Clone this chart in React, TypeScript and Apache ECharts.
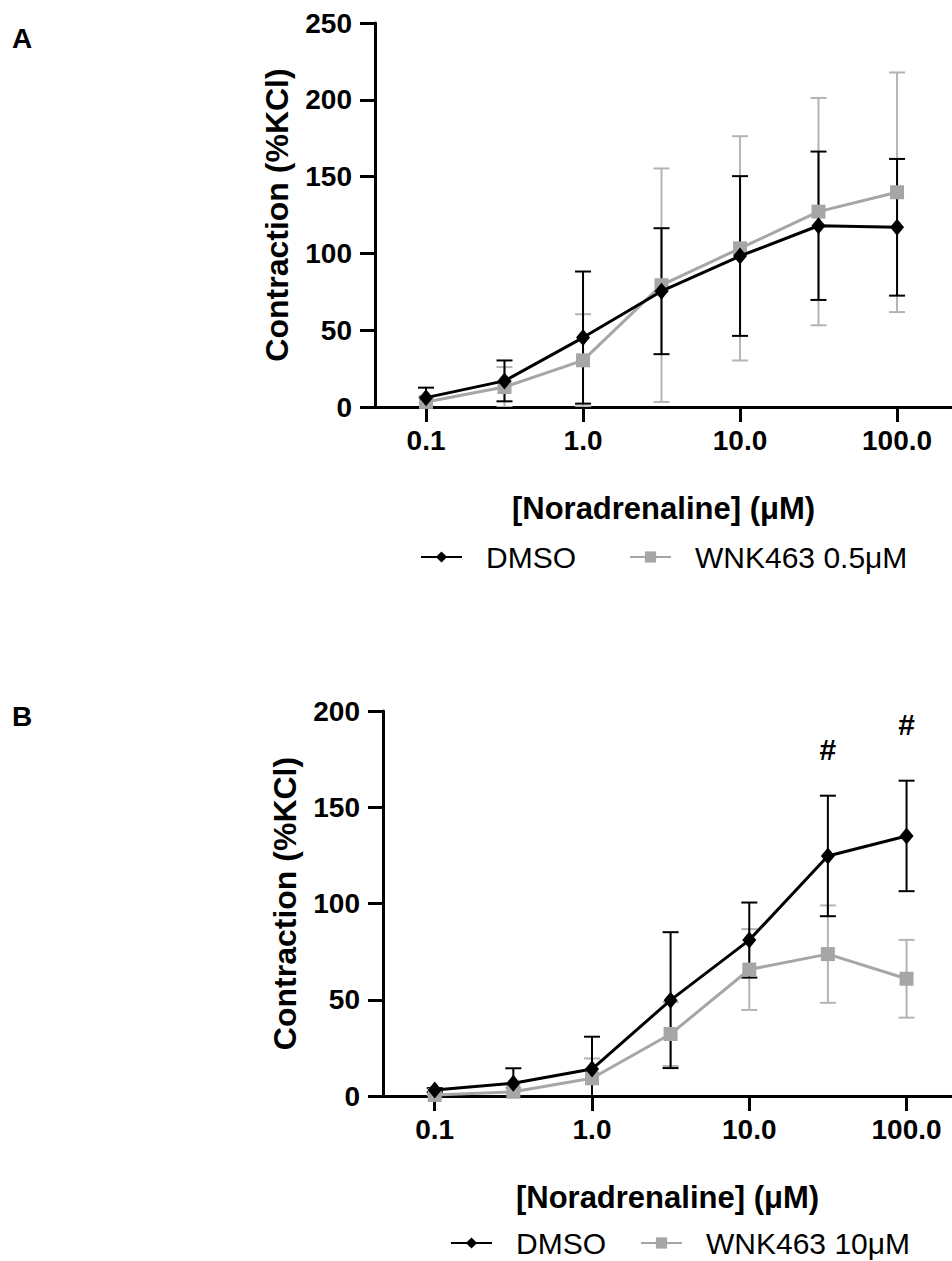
import React, { useEffect, useRef } from 'react';
import * as echarts from 'echarts';

const FONT = '"Liberation Sans", Arial, sans-serif';

// Noradrenaline concentrations (µM), half-log steps
const conc = [0.1, 0.316, 1, 3.16, 10, 31.6, 100];
const xTickValues = [0.1, 1, 10, 100];

// Panel A
const dmsoA = [6.1, 17.0, 45.2, 75.4, 98.3, 118.0, 117.0];
const dmsoASd = [6.5, 13.3, 43, 41, 52, 48.3, 44.5];
const wnkA = [3.3, 13.0, 30.4, 79.3, 103.3, 127.2, 139.8];
const wnkASd = [3, 13, 30, 76, 73, 74, 78];

// Panel B
const dmsoB = [3.1, 6.6, 14.0, 49.8, 81.0, 124.7, 135.1];
const dmsoBSd = [1, 7.8, 16.8, 35.3, 19.5, 31.3, 28.7];
const wnkB = [0.5, 2.2, 9.2, 32.2, 65.7, 73.7, 60.9];
const wnkBSd = [0.5, 2, 10.3, 16.6, 21, 25.3, 20.2];

// significance markers (#) in panel B
const sigConc = [31.6, 100];
const sigY = [180, 193];

const BLACK = '#000000';
const GRAY = '#a6a6a6';
const GRAY_ERR = '#b4b4b4';

function errSeries(name: string, xi: number, yi: number, mean: number[], sd: number[], color: string) {
  return {
    type: 'custom',
    name,
    xAxisIndex: xi,
    yAxisIndex: yi,
    clip: true,
    silent: true,
    data: conc.map((c, i) => [c, mean[i], sd[i]]),
    renderItem: (params: any, api: any) => {
      const x = api.value(0);
      const m = api.value(1);
      const e = api.value(2);
      const top = api.coord([x, m + e]);
      const bot = api.coord([x, Math.max(m - e, 0.0001)]);
      const w = 8;
      const style = { stroke: color, lineWidth: 2 };
      return {
        type: 'group',
        children: [
          { type: 'line', shape: { x1: top[0], y1: top[1], x2: bot[0], y2: bot[1] }, style },
          { type: 'line', shape: { x1: top[0] - w, y1: top[1], x2: top[0] + w, y2: top[1] }, style },
          { type: 'line', shape: { x1: bot[0] - w, y1: bot[1], x2: bot[0] + w, y2: bot[1] }, style },
        ],
      };
    },
    z: 1,
  };
}

function lineSeries(name: string, xi: number, yi: number, vals: number[], color: string, symbol: string, size: any, z: number) {
  return {
    type: 'line',
    name,
    xAxisIndex: xi,
    yAxisIndex: yi,
    data: conc.map((c, i) => [c, vals[i]]),
    symbol,
    symbolSize: size,
    showAllSymbol: true,
    lineStyle: { color, width: 3 },
    itemStyle: { color, borderWidth: 0 },
    z,
  };
}

function xAxis(gridIndex: number, min: number, max: number) {
  return {
    type: 'log',
    logBase: 10,
    gridIndex,
    min,
    max,
    name: '[Noradrenaline] (μM)',
    nameLocation: 'middle',
    nameGap: 86,
    nameTextStyle: { fontSize: 31, fontWeight: 'bold', color: BLACK, fontFamily: FONT },
    axisLine: { show: true, onZero: false, lineStyle: { color: BLACK, width: 3 } },
    axisTick: { show: true, length: 15, lineStyle: { color: BLACK, width: 3 }, customValues: xTickValues },
    axisLabel: {
      customValues: xTickValues,
      formatter: (v: number) => Number(v).toFixed(1),
      fontSize: 28,
      fontWeight: 'bold',
      color: BLACK,
      margin: 19,
      fontFamily: FONT,
    },
    splitLine: { show: false },
    minorTick: { show: false },
    minorSplitLine: { show: false },
  };
}

function yAxis(gridIndex: number, max: number) {
  return {
    type: 'value',
    gridIndex,
    min: 0,
    max,
    interval: 50,
    name: 'Contraction (%KCl)',
    nameLocation: 'middle',
    nameGap: 82,
    nameTextStyle: { fontSize: 32, fontWeight: 'bold', color: BLACK, fontFamily: FONT },
    axisLine: { show: true, lineStyle: { color: BLACK, width: 3 } },
    axisTick: { show: true, length: 15, lineStyle: { color: BLACK, width: 3 } },
    axisLabel: { fontSize: 28, fontWeight: 'bold', color: BLACK, margin: 23, fontFamily: FONT },
    splitLine: { show: false },
  };
}

export default function App() {
  const ref = useRef<HTMLDivElement>(null);
  useEffect(() => {
    if (!ref.current) return;
    const chart = echarts.init(ref.current, undefined, { renderer: 'svg' });
    const option: any = {
      animation: false,
      backgroundColor: '#ffffff',
      textStyle: { fontFamily: FONT },
      grid: [
        { left: 375, top: 23, width: 577, height: 384 },
        { left: 383, top: 711, width: 569, height: 385 },
      ],
      xAxis: [xAxis(0, Math.pow(10, -1.325), Math.pow(10, 2.35)), xAxis(1, Math.pow(10, -1.329), Math.pow(10, 2.289))],
      yAxis: [yAxis(0, 250), yAxis(1, 200)],
      legend: [
        {
          data: ['DMSO', 'WNK463 0.5μM'],
          left: 415,
          top: 537,
          itemWidth: 41,
          itemHeight: 14,
          itemGap: 53,
          textStyle: { fontSize: 30, color: BLACK, fontFamily: FONT, padding: [0, 0, 0, 19] },
        },
        {
          data: ['DMSO', 'WNK463 10μM'],
          left: 445,
          top: 1223,
          itemWidth: 41,
          itemHeight: 14,
          itemGap: 34,
          textStyle: { fontSize: 30, color: BLACK, fontFamily: FONT, padding: [0, 0, 0, 19] },
        },
      ],
      graphic: [
        { type: 'text', left: 12, top: 24, style: { text: 'A', font: 'bold 28px "Liberation Sans", Arial', fill: BLACK } },
        { type: 'text', left: 12, top: 702, style: { text: 'B', font: 'bold 28px "Liberation Sans", Arial', fill: BLACK } },
      ],
      series: [
        errSeries('errWA', 0, 0, wnkA, wnkASd, GRAY_ERR),
        lineSeries('WNK463 0.5μM', 0, 0, wnkA, GRAY, 'rect', 14, 2),
        errSeries('errDA', 0, 0, dmsoA, dmsoASd, BLACK),
        lineSeries('DMSO', 0, 0, dmsoA, BLACK, 'diamond', [14, 17], 4),
        errSeries('errWB', 1, 1, wnkB, wnkBSd, GRAY_ERR),
        lineSeries('WNK463 10μM', 1, 1, wnkB, GRAY, 'rect', 14, 2),
        errSeries('errDB', 1, 1, dmsoB, dmsoBSd, BLACK),
        lineSeries('DMSO', 1, 1, dmsoB, BLACK, 'diamond', [14, 17], 4),
        {
          type: 'custom',
          name: 'sig',
          xAxisIndex: 1,
          yAxisIndex: 1,
          clip: false,
          data: sigConc.map((c, i) => [c, sigY[i]]),
          renderItem: (params: any, api: any) => {
            const p = api.coord([api.value(0), api.value(1)]);
            return {
              type: 'text',
              x: p[0],
              y: p[1],
              style: {
                text: '#',
                fill: BLACK,
                font: 'bold 30px "Liberation Sans", Arial',
                align: 'center',
                verticalAlign: 'middle',
              },
            };
          },
        },
      ],
    };
    chart.setOption(option);
    return () => chart.dispose();
  }, []);
  return (
    <div
      ref={ref}
      style={{ position: 'absolute', left: 0, top: 0, width: 952, height: 1261, background: '#fff' }}
    />
  );
}
